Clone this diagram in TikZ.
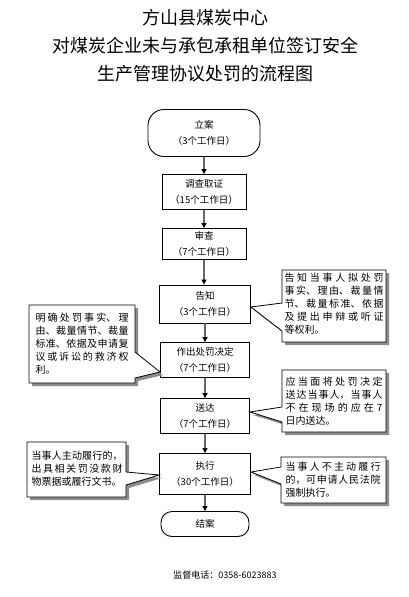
\documentclass[tikz,border=0pt]{standalone}
\usepackage{fontspec}
\setmainfont{Noto Sans CJK SC}
\XeTeXlinebreaklocale "zh"
\XeTeXlinebreakskip=0pt plus 4pt
\usetikzlibrary{calc,arrows.meta,shadows}
\tikzset{
  procbox/.style={draw, line width=0.9pt, fill=white, inner sep=0pt, align=center,
    font=\fontsize{9.5}{16}\selectfont},
  endbox/.style={procbox, rounded corners=#1},
  flow/.style={draw=black!60, line width=1.2pt, -{Triangle[black,length=5pt,width=5pt]}},
  callout/.style={draw, line width=0.8pt, fill=white,
    drop shadow={shadow xshift=3pt, shadow yshift=-3pt, fill=black!45, opacity=1}},
  notetext/.style={text width=#1, align=justify, inner sep=0pt,
    font=\fontsize{10}{13}\selectfont},
}

\begin{document}
\begin{tikzpicture}[x=1pt, y=-1pt]
		%%%%% START %%%%%
		\useasboundingbox (0,0) rectangle (409,597);
		
		% title
		\node[font=\fontsize{18}{28}\selectfont, align=center] (title) at (205,46)
		  {方山县煤炭中心\\对煤炭企业未与承包承租单位签订安全\\生产管理协议处罚的流程图};
		
		% main steps
		\node[endbox=16pt, minimum width=112pt, minimum height=47pt] (la) at (204,133) {立案\\（3个工作日）};
		\node[procbox, minimum width=84pt, minimum height=35pt] (dc) at (204,192) {调查取证\\（15个工作日）};
		\node[procbox, minimum width=84pt, minimum height=31pt] (sc) at (204,244) {审查\\（7个工作日）};
		\node[procbox, minimum width=91pt, minimum height=38pt] (gz) at (205,304) {告知\\（3个工作日）};
		\node[procbox, minimum width=89pt, minimum height=35pt] (zc) at (205,360) {作出处罚决定\\（7个工作日）};
		\node[procbox, minimum width=89pt, minimum height=35pt] (sd) at (205,416) {送达\\（7个工作日）};
		\node[procbox, minimum width=91pt, minimum height=41pt] (zx) at (205,474) {执行\\（30个工作日）};
		\node[endbox=11pt, minimum width=88pt, minimum height=25pt] (ja) at (205,524) {结案};
		
		\draw[flow] (la) -- (la |- dc.north);
		\draw[flow] (dc) -- (dc |- sc.north);
		\draw[flow] (sc) -- (sc |- gz.north);
		\draw[flow] (gz) -- (gz |- zc.north);
		\draw[flow] (zc) -- (zc |- sd.north);
		\draw[flow] (sd) -- (sd |- zx.north);
		\draw[flow] (zx) -- (zx |- ja.north);
		
		% callouts
		\coordinate (gztip) at ($(gz.east)+(0,3)$);
		\draw[callout] (282,270) -- (386,270) -- (386,342) -- (282,342) -- (282,331) -- (gztip) -- (282,303) -- cycle;
		\node[notetext=99pt] (gznote) at (334,304) {告知当事人拟处罚\linebreak 事实、理由、裁量情\linebreak 节、裁量标准、依据\linebreak 及提出申辩或听证\linebreak 等权利。};
		
		\coordinate (zctip) at ($(zc.west)+(0,12)$);
		\draw[callout] (29,305) -- (135,305) -- (135,352) -- (zctip) -- (135,378) -- (135,383) -- (29,383) -- cycle;
		\node[notetext=93pt] (zcnote) at (82,344) {明确处罚事实、理\linebreak 由、裁量情节、裁量\linebreak 标准、依据及申请复\linebreak 议或诉讼的救济权\linebreak 利。};
		
		\coordinate (sdtip) at ($(sd.east)+(0,-4)$);
		\draw[callout] (282,370) -- (386,370) -- (386,432) -- (282,432) -- (282,422) -- (sdtip) -- (282,407) -- cycle;
		\node[notetext=97pt] (sdnote) at (334,401) {应当面将处罚决定\linebreak 送达当事人，当事人\linebreak 不在现场的应在7\linebreak 日内送达。};
		
		\coordinate (zxtipr) at ($(zx.east)+(0,-2)$);
		\draw[callout] (281,457) -- (386,457) -- (386,503) -- (281,503) -- (281,484) -- (zxtipr) -- (281,467) -- cycle;
		\node[notetext=95pt] (zxnoter) at (333,480) {当事人不主动履行\linebreak 的，可申请人民法院\linebreak 强制执行。};
		
		\coordinate (zxtipl) at ($(zx.west)+(0,1)$);
		\draw[callout] (27,442) -- (126,442) -- (126,472) -- (zxtipl) -- (126,485) -- (126,497) -- (27,497) -- cycle;
		\node[notetext=91pt] (zxnotel) at (77,469) {当事人主动履行的，\linebreak 出具相关罚没款财\linebreak 物票据或履行文书。};
		
		% footer
		\node[font=\fontsize{9}{11}\selectfont] (tel) at (225,575) {监督电话：0358-6023883};
		%%%%% END %%%%%
\end{tikzpicture}
\end{document}
